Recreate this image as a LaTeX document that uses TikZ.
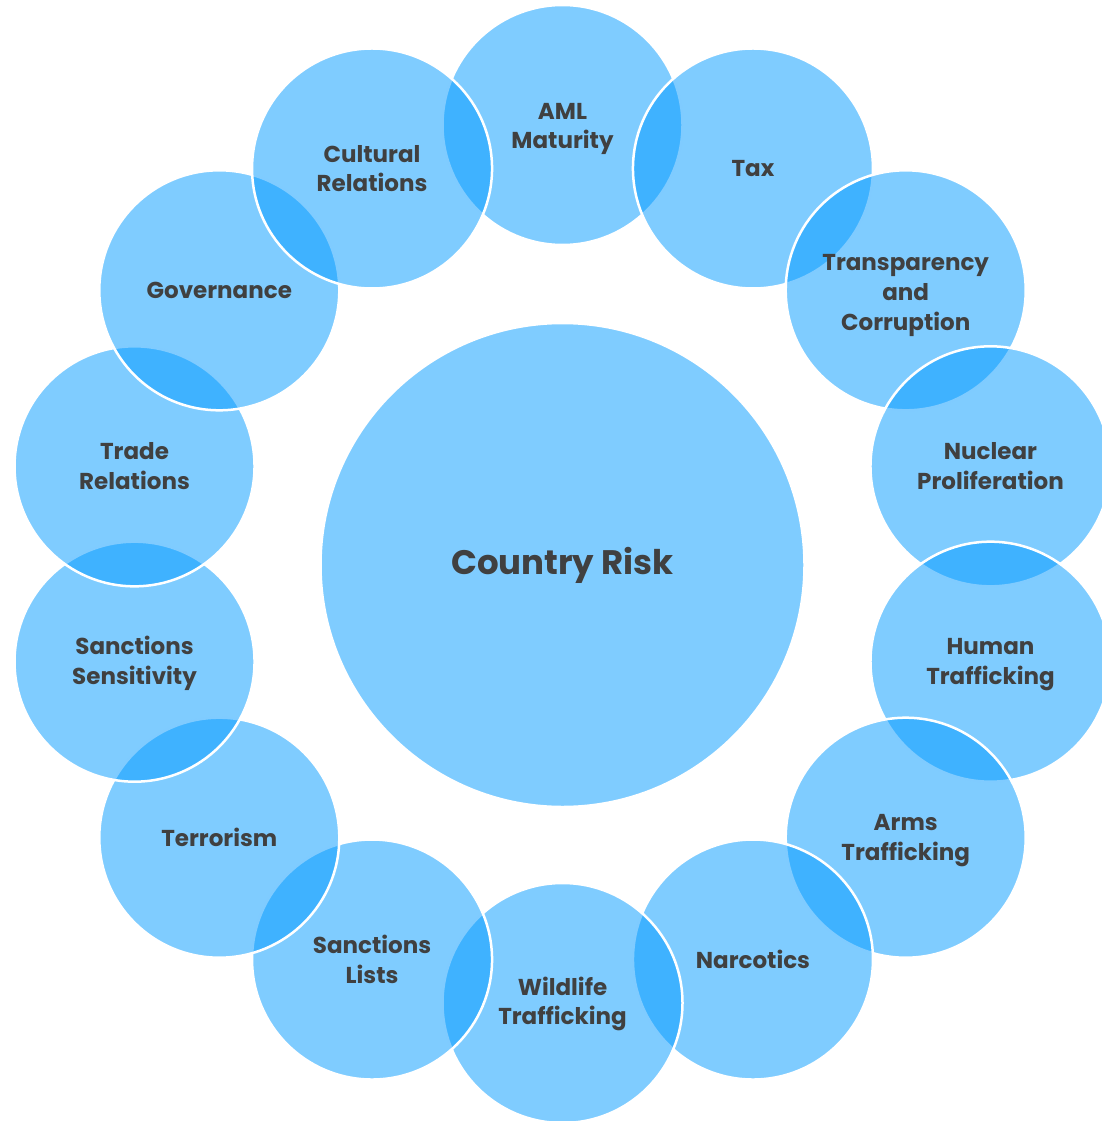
\documentclass[tikz,border=0pt]{standalone}
\usepackage{fontspec}
\setmainfont{Poppins}
\usetikzlibrary{calc}
\begin{document}
\begin{tikzpicture}[x=1pt,y=-1pt,
  bubble/.style={circle, fill={rgb,255:red,0;green,153;blue,255}, fill opacity=0.5,
    draw=white, draw opacity=1, line width=2.5pt, inner sep=0pt},
  label/.style={text=labelgray, text opacity=1, align=center,
    font=\fontsize{23}{29.8}\selectfont\bfseries},
]
\definecolor{labelgray}{HTML}{404040}
\useasboundingbox (0,0) rectangle (1102,1121);
\clip (0,0) rectangle (1102,1121);

% central circle
\node[bubble, minimum size=484pt] (core) at (562.5,565) {};
\node[label, font=\fontsize{34}{40}\selectfont\bfseries] (coretext) at (core) {Country Risk};

% ring of fourteen circles, drawn clockwise from the top
\foreach \name [count=\k from 0] in {aml,tax,transp,nuclear,human,arms,narc,wild,slists,terror,ssens,trade,gov,cult}
{
  \pgfmathsetmacro{\ang}{\k*360/14-90}
  \node[bubble, minimum size=240pt] (\name) at ($(562.5,564)+(\ang:439)$) {};
}
% labels: name / text / vertical nudge
\foreach \name/\txt/\dy in {
  aml/{AML\\Maturity}/-4,
  tax/{Tax}/0,
  transp/{Transparency\\and\\Corruption}/-5,
  nuclear/{Nuclear\\Proliferation}/0,
  human/{Human\\Trafficking}/-3,
  arms/{Arms\\Trafficking}/-3,
  narc/{Narcotics}/0,
  wild/{Wildlife\\Trafficking}/-1,
  slists/{Sanctions\\Lists}/0,
  terror/{Terrorism}/0,
  ssens/{Sanctions\\Sensitivity}/-1.5,
  trade/{Trade\\Relations}/0,
  gov/{Governance}/0,
  cult/{Cultural\\Relations}/0}
{
  \node[label, yshift=\dy pt] (\name-text) at (\name) {\txt};
}
\end{tikzpicture}
\end{document}
